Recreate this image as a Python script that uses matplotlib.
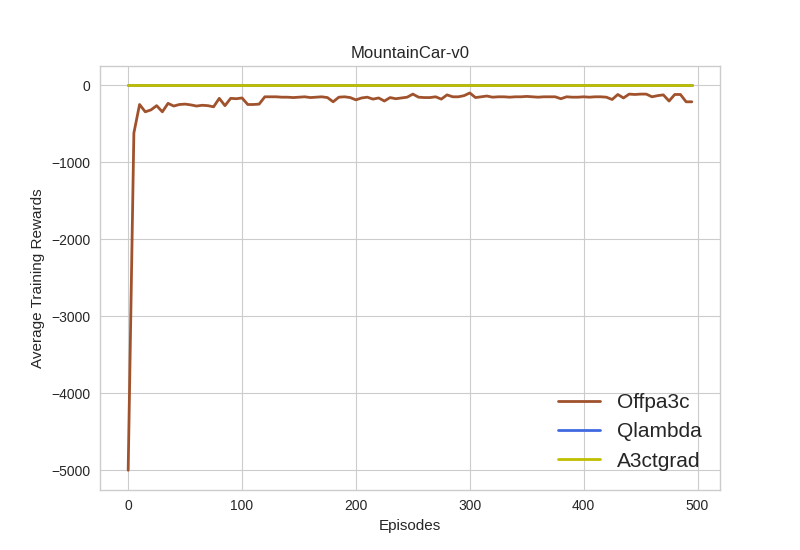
import matplotlib
matplotlib.use("Agg")
import matplotlib.pyplot as plt
import numpy as np

episodes = list(range(0, 500, 5))

offpa3c = [
    -5000, -620, -250, -345, -320, -265, -345, -235, -270, -250,
    -245, -255, -270, -260, -265, -280, -170, -265, -170, -175,
    -165, -250, -250, -245, -150, -150, -150, -155, -155, -160,
    -155, -150, -160, -155, -150, -160, -215, -155, -150, -160,
    -190, -165, -155, -180, -165, -205, -160, -175, -165, -155,
    -115, -155, -160, -160, -150, -180, -125, -150, -150, -135,
    -100, -160, -150, -140, -155, -150, -150, -155, -150, -150,
    -145, -150, -155, -150, -150, -150, -175, -150, -155, -155,
    -150, -155, -150, -150, -155, -185, -120, -165, -115, -120,
    -115, -115, -150, -135, -125, -205, -120, -120, -215, -215,
]
qlambda = [0] * 100
a3ctgrad = [0] * 100

plt.style.use('seaborn-v0_8-whitegrid')
plt.rcParams['font.family'] = ['Liberation Sans', 'DejaVu Sans']
plt.rcParams['axes.unicode_minus'] = True

fig, ax = plt.subplots(figsize=(8, 5.5), dpi=100)
ax.plot(episodes, offpa3c, color='#a0522d', lw=2, label='Offpa3c')
ax.plot(episodes, qlambda, color='#4169e1', lw=2, label='Qlambda')
ax.plot(episodes, a3ctgrad, color='#bfbf00', lw=2, label='A3ctgrad')

ax.set_title('MountainCar-v0', fontsize=12)
ax.set_xlabel('Episodes', fontsize=11)
ax.set_ylabel('Average Training Rewards', fontsize=11)
ax.tick_params(labelsize=10, pad=7)
for s in ax.spines.values():
    s.set_visible(True)
    s.set_color('#cccccc')
ax.legend(loc='lower right', fontsize=15, frameon=False)

fig.savefig('out.png', dpi=100)
